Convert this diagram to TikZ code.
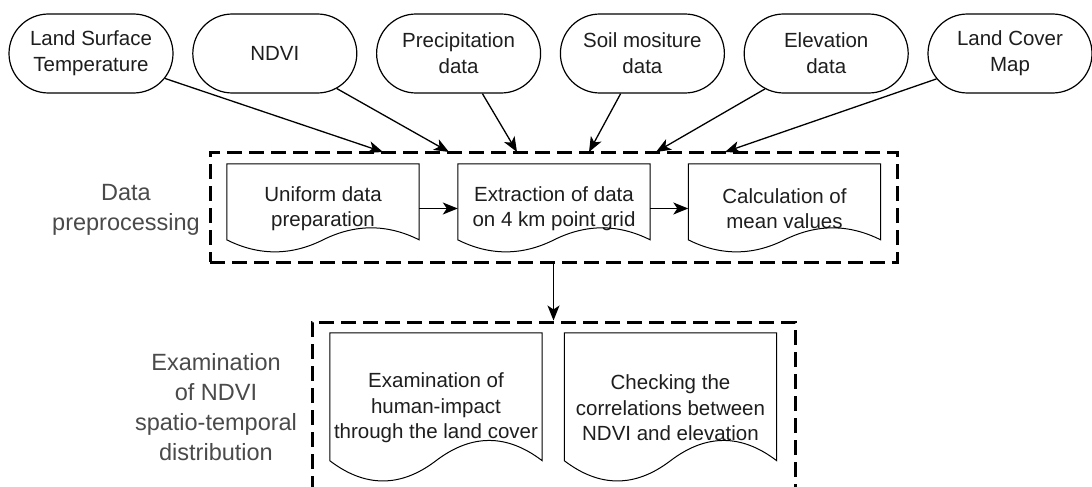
\documentclass[tikz,border=0pt]{standalone}
\usepackage{fontspec}
\setmainfont{Liberation Sans}
\usetikzlibrary{arrows.meta,shapes.misc}
\definecolor{txt}{HTML}{1E1E1E}
\definecolor{lblc}{HTML}{4A4A4A}
\newcommand\docpath[3]{%
 \draw[docline] (#1.north west) -- (#1.north east)
  -- ([yshift=0.5*#3*1pt]#1.south east)
  .. controls ([xshift=-#2/6*1pt, yshift=1.1*#3*1pt]#1.south east)
  and ([xshift=-#2/3*1pt, yshift=1.1*#3*1pt]#1.south east)
  .. ([yshift=0.5*#3*1pt]#1.south)
  .. controls ([xshift=-#2/6*1pt, yshift=-0.1*#3*1pt]#1.south)
  and ([xshift=#2/6*1pt, yshift=-0.1*#3*1pt]#1.south west)
  .. ([yshift=0.5*#3*1pt]#1.south west) -- cycle;}
\begin{document}
\begin{tikzpicture}[x=1pt,y=-1pt,
  src/.style={rounded rectangle, draw=black, line width=1.2pt, minimum width=164pt, minimum height=79pt, inner sep=0pt, align=center, font=\fontsize{20.5}{26}\selectfont, text=txt},
  docA/.style={inner sep=0pt, minimum width=192pt, minimum height=89pt, align=center, font=\fontsize{20.5}{25}\selectfont, text=txt},
  docB/.style={inner sep=0pt, minimum width=212pt, minimum height=150pt, align=center, font=\fontsize{20.5}{25.5}\selectfont, text=txt},
  docline/.style={draw=black, line width=1pt},
  groupbox/.style={draw=black, line width=3pt, dash pattern=on 15pt off 7pt, inner sep=0pt},
  arr/.style={-{Stealth[length=15pt,width=12pt,inset=4pt]}, line width=1.3pt},
  lbl/.style={align=center, font=\fontsize{23.5}{30}\selectfont, text=lblc}
]
\fill[white] (0,0) rectangle (1092,487);
\useasboundingbox (0,0) rectangle (1092,487);

% source nodes
\node[src] (lst)  at (91,53.5)    {Land Surface\\Temperature};
\node[src] (ndvi) at (274.8,53.5) {NDVI};
\node[src] (prec) at (458.6,53.5) {Precipitation\\data};
\node[src] (soil) at (642.4,53.5) {Soil mositure\\data};
\node[src] (elev) at (826.2,53.5) {Elevation\\data};
\node[src] (lc)   at (1010,53.5)  {Land Cover\\Map};

% group boxes
\node[groupbox, minimum width=687pt, minimum height=110pt] (g1) at (553.5,207) {};
\begin{scope}
\clip (0,0) rectangle (1092,487);
\node[groupbox, minimum width=483pt, minimum height=178pt] (g2) at (553.5,411) {};
\end{scope}

% labels
\node[lbl] (l1) at (126,210) {Data\\preprocessing};
\node[lbl] (l2) at (216,407) {Examination\\of NDVI\\spatio-temporal\\distribution};

% documents
\node[docA] (u) at (323,208.5)   {Uniform data\\preparation};
\node[docA] (e) at (554,208.5)   {Extraction of data\\on 4 km point grid};
\node[docA] (c) at (784.5,208.5) {Calculation of\\mean values};
\docpath{u}{192}{26.7}
\docpath{e}{192}{26.7}
\docpath{c}{192}{26.7}

\node[docB] (d1) at (436,408)   {Examination of\\human-impact\\through the land cover};
\node[docB] (d2) at (670.5,408) {Checking the\\correlations between\\NDVI and elevation};
\docpath{d1}{212}{45}
\docpath{d2}{212}{45}

% arrow targets on the top of group 1
\coordinate (t1) at (383,152);
\coordinate (t2) at (449,152);
\coordinate (t3) at (517,152);
\coordinate (t4) at (589,152);
\coordinate (t5) at (656,152);
\coordinate (t6) at (725,152);

\draw[arr] (lst) -- (t1);
\draw[arr] (ndvi) -- (t2);
\draw[arr] (prec) -- (t3);
\draw[arr] (soil) -- (t4);
\draw[arr] (elev) -- (t5);
\draw[arr] (lc) -- (t6);

\draw[arr] (u.east) -- (e.west);
\draw[arr] (e.east) -- (c.west);
\draw[arr] (g1.south) -- (g2.north);
\end{tikzpicture}
\end{document}
